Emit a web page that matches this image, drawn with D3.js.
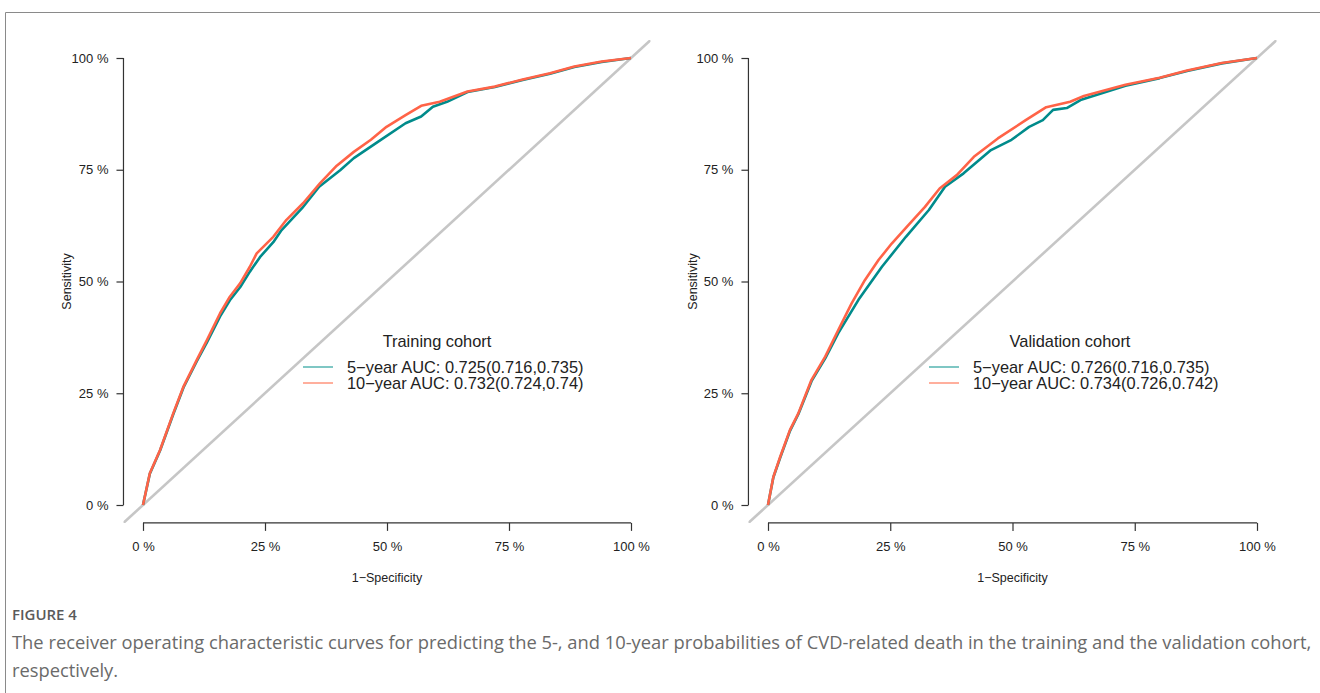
<!DOCTYPE html>
<html>
<head>
<meta charset="utf-8">
<script src="https://cdn.jsdelivr.net/npm/d3@7"></script>
<style>
  html, body { margin: 0; padding: 0; background: #fff; }
  svg { display: block; }
</style>
</head>
<body>
<svg id="chart" width="1320" height="693"></svg>
<script>
// ---------------- DATA ----------------
const tickValues = [0, 0.25, 0.5, 0.75, 1];
const tickLabels = ["0 %", "25 %", "50 %", "75 %", "100 %"];
const seriesNames = ["5\u2212year", "10\u2212year"];
const seriesColors = ["#008B8B", "#FF6347"];
const legendColors = ["#3AA9A4", "#FF8468"];

// Training cohort
const trainFpr5 = [0, .014, .035, .062, .083, .110, .131, .158, .178, .199, .219, .240, .267, .284, .326, .361, .404, .432, .482, .538, .570, .594, .623, .665, .721, .778, .834, .884, .940, 1];
const trainTpr5 = [0, .070, .122, .203, .263, .321, .364, .422, .458, .487, .522, .555, .588, .615, .664, .712, .749, .776, .813, .854, .869, .891, .902, .924, .935, .951, .965, .980, .991, 1];
const trainFpr10 = [0, .014, .035, .062, .083, .110, .131, .158, .178, .199, .219, .233, .267, .294, .328, .363, .397, .432, .467, .499, .538, .570, .608, .665, .721, .778, .834, .884, .940, 1];
const trainTpr10 = [0, .071, .123, .205, .265, .324, .369, .429, .466, .496, .533, .563, .600, .638, .675, .720, .759, .790, .817, .846, .872, .893, .902, .925, .936, .952, .966, .981, .992, 1];

// Validation cohort
const validFpr5 = [0, .011, .025, .045, .062, .089, .117, .144, .185, .233, .282, .329, .362, .400, .456, .498, .534, .562, .583, .611, .639, .731, .801, .857, .928, 1];
const validTpr5 = [0, .062, .106, .166, .203, .277, .328, .385, .459, .533, .600, .660, .712, .742, .794, .817, .846, .861, .884, .888, .906, .938, .955, .971, .988, 1];
const validFpr10 = [0, .011, .025, .045, .062, .089, .117, .144, .171, .198, .226, .253, .287, .321, .351, .386, .421, .470, .527, .569, .618, .646, .731, .801, .857, .928, 1];
const validTpr10 = [0, .063, .108, .168, .205, .280, .332, .392, .451, .503, .548, .585, .626, .667, .708, .738, .779, .820, .861, .890, .902, .915, .940, .956, .972, .989, 1];

const panelTitles = ["Training cohort", "Validation cohort"];
const trainLegend = ["5\u2212year AUC: 0.725(0.716,0.735)", "10\u2212year AUC: 0.732(0.724,0.74)"];
const validLegend = ["5\u2212year AUC: 0.726(0.716,0.735)", "10\u2212year AUC: 0.734(0.726,0.742)"];

const xTitle = "1\u2212Specificity";
const yTitle = "Sensitivity";
const captionLabel = "FIGURE 4";
const captionLines = [
  "The receiver operating characteristic curves for predicting the 5-, and 10-year probabilities of CVD-related death in the training and the validation cohort,",
  "respectively."
];

// ---------------- LAYOUT ----------------
const svg = d3.select("#chart");
const FONT = "'Liberation Sans', Arial, Helvetica, sans-serif";

// frame
svg.append("path")
  .attr("d", "M5.5,693 L5.5,12.5 L1320,12.5")
  .attr("fill", "none").attr("stroke", "#8a8a8a").attr("stroke-width", 1);

const panels = [
  { left: 143, right: 631, title: panelTitles[0], legend: trainLegend,
    series: [[trainFpr5, trainTpr5], [trainFpr10, trainTpr10]],
    legendLineX: 303, legendTextX: 347, titleX: 437, yTitleX: 67 },
  { left: 768, right: 1257, title: panelTitles[1], legend: validLegend,
    series: [[validFpr5, validTpr5], [validFpr10, validTpr10]],
    legendLineX: 929, legendTextX: 973, titleX: 1070, yTitleX: 693 }
];

const y0 = 505, y1 = 58;

panels.forEach(p => {
  const w = p.right - p.left, h = y0 - y1;
  const x = d3.scaleLinear().domain([-0.04, 1.04]).range([p.left - 0.04 * w, p.right + 0.04 * w]);
  const y = d3.scaleLinear().domain([-0.04, 1.04]).range([y0 + 0.04 * h, y1 - 0.04 * h]);
  const g = svg.append("g");

  const clipId = "clip" + p.left;
  svg.append("clipPath").attr("id", clipId).append("rect")
    .attr("x", x(-0.04)).attr("y", y(1.04))
    .attr("width", x(1.04) - x(-0.04)).attr("height", y(-0.04) - y(1.04));

  // diagonal reference line
  g.append("line")
    .attr("clip-path", `url(#${clipId})`)
    .attr("x1", x(-0.04)).attr("y1", y(-0.04))
    .attr("x2", x(1.04)).attr("y2", y(1.04))
    .attr("stroke", "#c6c6c6").attr("stroke-width", 2.6);

  // curves
  const line = d3.line().x(d => x(d[0])).y(d => y(d[1]));
  p.series.forEach((s, i) => {
    const pts = s[0].map((f, k) => [f, s[1][k]]);
    g.append("path").datum(pts)
      .attr("d", line)
      .attr("fill", "none")
      .attr("stroke", seriesColors[i])
      .attr("stroke-width", 2.6)
      .attr("stroke-linejoin", "round");
  });

  // x axis
  const axisY = y(-0.04);
  const xAxis = d3.axisBottom(x).tickValues(tickValues)
    .tickFormat((d, i) => tickLabels[i]).tickSize(8).tickPadding(11).tickSizeOuter(0);
  const gx = g.append("g").attr("transform", `translate(0,${axisY})`).call(xAxis);
  gx.select(".domain").remove();
  gx.append("line").attr("x1", x(0)).attr("x2", x(1)).attr("y1", 0).attr("y2", 0)
    .attr("stroke", "#333").attr("stroke-width", 1.2);

  // y axis
  const axisX = x(-0.04);
  const yAxis = d3.axisLeft(y).tickValues(tickValues)
    .tickFormat((d, i) => tickLabels[i]).tickSize(7).tickPadding(8).tickSizeOuter(0);
  const gy = g.append("g").attr("transform", `translate(${axisX},0)`).call(yAxis);
  gy.select(".domain").remove();
  gy.append("line").attr("x1", 0).attr("x2", 0).attr("y1", y(0)).attr("y2", y(1))
    .attr("stroke", "#333").attr("stroke-width", 1.2);

  [gx, gy].forEach(a => {
    a.selectAll(".tick line").attr("stroke", "#333").attr("stroke-width", 1.2);
    a.selectAll(".tick text").attr("fill", "#222")
      .style("font-family", FONT).style("font-size", "13px");
  });

  // axis titles
  g.append("text").attr("x", x(0.5)).attr("y", 582)
    .attr("text-anchor", "middle").attr("fill", "#222")
    .style("font-family", FONT).style("font-size", "12.5px").text(xTitle);
  g.append("text")
    .attr("transform", `translate(${p.yTitleX + 4},${y(0.5)}) rotate(-90)`)
    .attr("text-anchor", "middle").attr("fill", "#222")
    .style("font-family", FONT).style("font-size", "12.5px").text(yTitle);

  // legend
  g.append("text").attr("x", p.titleX).attr("y", 347)
    .attr("text-anchor", "middle").attr("fill", "#222")
    .style("font-family", FONT).style("font-size", "16.4px").text(p.title);
  p.legend.forEach((t, i) => {
    const ly = 367 + i * 16;
    g.append("line").attr("x1", p.legendLineX).attr("x2", p.legendLineX + 30)
      .attr("y1", ly).attr("y2", ly)
      .attr("stroke", legendColors[i]).attr("stroke-width", 1.3);
    g.append("text").attr("x", p.legendTextX).attr("y", ly + 6)
      .attr("fill", "#222")
      .style("font-family", FONT).style("font-size", "16.4px").text(t);
  });
});

// caption
const capFont = "'Open Sans', 'Noto Sans', sans-serif";
const lab = svg.append("text").attr("x", 0).attr("y", 0)
  .attr("fill", "#5a5a5a").style("font-family", capFont)
  .style("font-size", "15px").style("font-weight", "600").text(captionLabel);
const labW = lab.node().getComputedTextLength();
lab.attr("transform", `translate(12,620) scale(${65 / labW},1)`);

const c1 = svg.append("text").attr("x", 0).attr("y", 0)
  .attr("fill", "#6a6a6a").style("font-family", capFont).style("font-size", "19px")
  .text(captionLines[0]);
const c1W = c1.node().getComputedTextLength();
const sx = 1301 / c1W;
c1.attr("transform", `translate(12,649) scale(${sx},1)`);
svg.append("text").attr("x", 0).attr("y", 0)
  .attr("fill", "#6a6a6a").style("font-family", capFont).style("font-size", "19px")
  .attr("transform", `translate(12,677) scale(${sx},1)`)
  .text(captionLines[1]);
</script>
</body>
</html>
